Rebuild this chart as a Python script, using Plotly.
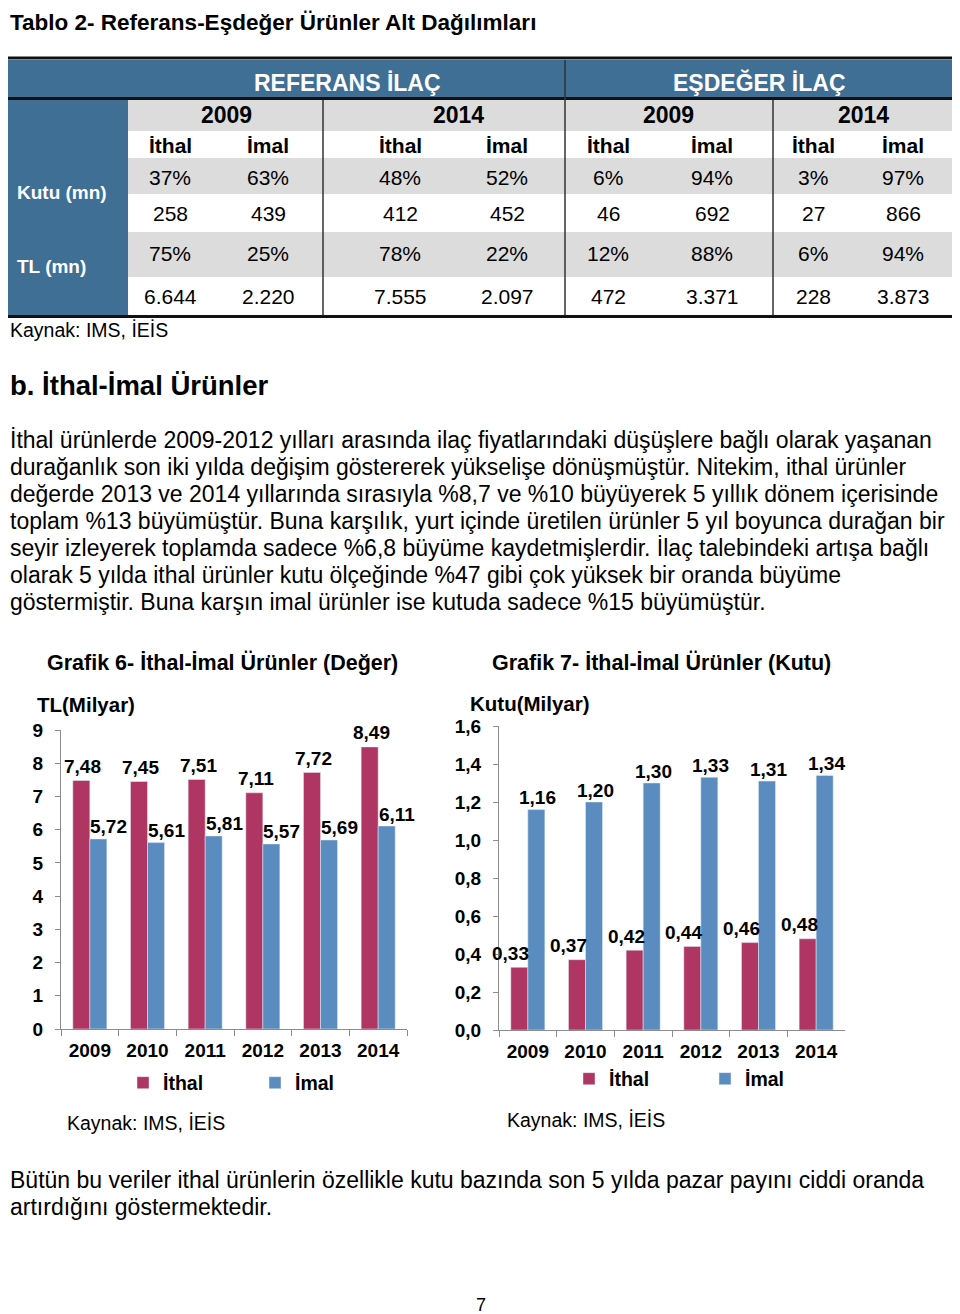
import plotly.graph_objects as go

W, H = 960, 1314
OFF = 8  # page body margin compensation

def X(px):
    return (px - OFF) / W

def Y(py):
    return 1 - (py - OFF) / H

FONT = "Liberation Sans, Arial, sans-serif"
BLUE_HDR = "#3F6F95"
GRAY_ROW = "#DCDCDC"
ITHAL_C = "#AF3562"
IMAL_C = "#5B8CBF"
AXIS_C = "#8C8C8C"

# ---------------- data ----------------
years = ["2009", "2010", "2011", "2012", "2013", "2014"]
deger_ithal = [7.48, 7.45, 7.51, 7.11, 7.72, 8.49]
deger_imal = [5.72, 5.61, 5.81, 5.57, 5.69, 6.11]
kutu_ithal = [0.33, 0.37, 0.42, 0.44, 0.46, 0.48]
kutu_imal = [1.16, 1.20, 1.30, 1.33, 1.31, 1.34]

table_groups = ["REFERANS İLAÇ", "EŞDEĞER İLAÇ"]
table_years = ["2009", "2014", "2009", "2014"]
table_sub = ["İthal", "İmal", "İthal", "İmal", "İthal", "İmal", "İthal", "İmal"]
row_labels = ["Kutu (mn)", "TL (mn)"]
kutu_pct = ["37%", "63%", "48%", "52%", "6%", "94%", "3%", "97%"]
kutu_val = ["258", "439", "412", "452", "46", "692", "27", "866"]
tl_pct = ["75%", "25%", "78%", "22%", "12%", "88%", "6%", "94%"]
tl_val = ["6.644", "2.220", "7.555", "2.097", "472", "3.371", "228", "3.873"]

page_title = "Tablo 2- Referans-Eşdeğer Ürünler Alt Dağılımları"
source_txt = "Kaynak: IMS, İEİS"
section_title = "b. İthal-İmal Ürünler"
paragraph = [
    "İthal ürünlerde 2009-2012 yılları arasında ilaç fiyatlarındaki düşüşlere bağlı olarak yaşanan",
    "durağanlık son iki yılda değişim göstererek yükselişe dönüşmüştür. Nitekim, ithal ürünler",
    "değerde 2013 ve 2014 yıllarında sırasıyla %8,7 ve %10 büyüyerek 5 yıllık dönem içerisinde",
    "toplam %13 büyümüştür. Buna karşılık, yurt içinde üretilen ürünler 5 yıl boyunca durağan bir",
    "seyir izleyerek toplamda sadece %6,8 büyüme kaydetmişlerdir. İlaç talebindeki artışa bağlı",
    "olarak 5 yılda ithal ürünler kutu ölçeğinde %47 gibi çok yüksek bir oranda büyüme",
    "göstermiştir. Buna karşın imal ürünler ise kutuda sadece %15 büyümüştür.",
]
closing = [
    "Bütün bu veriler ithal ürünlerin özellikle kutu bazında son 5 yılda pazar payını ciddi oranda",
    "artırdığını göstermektedir.",
]
chart1_title = "Grafik 6- İthal-İmal Ürünler (Değer)"
chart2_title = "Grafik 7- İthal-İmal Ürünler (Kutu)"
chart1_unit = "TL(Milyar)"
chart2_unit = "Kutu(Milyar)"
page_no = "7"

# ---------------- figure ----------------
fig = go.Figure()

fig.add_trace(go.Bar(x=years, y=deger_ithal, name="İthal", marker_color=ITHAL_C,
                     xaxis="x", yaxis="y", legend="legend", hoverinfo="skip"))
fig.add_trace(go.Bar(x=years, y=deger_imal, name="İmal", marker_color=IMAL_C,
                     xaxis="x", yaxis="y", legend="legend", hoverinfo="skip"))
fig.add_trace(go.Bar(x=years, y=kutu_ithal, name="İthal", marker_color=ITHAL_C,
                     xaxis="x2", yaxis="y2", legend="legend2", hoverinfo="skip"))
fig.add_trace(go.Bar(x=years, y=kutu_imal, name="İmal", marker_color=IMAL_C,
                     xaxis="x2", yaxis="y2", legend="legend2", hoverinfo="skip"))

ann = []
shapes = []

def text(x, y, t, size, bold=False, color="black", xanchor="left", yanchor="middle"):
    ann.append(dict(x=X(x), y=Y(y), xref="paper", yref="paper", text=t, showarrow=False,
                    xanchor=xanchor, yanchor=yanchor,
                    font=dict(family=FONT, size=size, color=color,
                              weight="bold" if bold else "normal")))

def rect(x0, y0, x1, y1, color):
    shapes.append(dict(type="rect", xref="paper", yref="paper", x0=X(x0), x1=X(x1),
                       y0=Y(y1), y1=Y(y0), fillcolor=color, line=dict(width=0), layer="below"))

def line(x0, y0, x1, y1, color, width):
    shapes.append(dict(type="line", xref="paper", yref="paper", x0=X(x0), x1=X(x1),
                       y0=Y(y0), y1=Y(y1), line=dict(color=color, width=width)))

LEFT = 8

# ---- table ----
text(LEFT, 8, page_title, 22.5, bold=True, yanchor="top")
rect(LEFT, 60, 953, 97, BLUE_HDR)
rect(LEFT, 97, 128, 315, BLUE_HDR)
rect(128, 100, 953, 131, GRAY_ROW)
rect(128, 158, 953, 194, GRAY_ROW)
rect(128, 232, 953, 277, GRAY_ROW)
line(LEFT, 58, 953, 58, "#111111", 3)
line(LEFT, 98.5, 953, 98.5, "#111111", 3)
line(LEFT, 316.5, 953, 316.5, "#111111", 3)
line(565, 60, 565, 315, "#333333", 1.5)
line(323, 100, 323, 315, "#333333", 1.5)
line(773, 100, 773, 315, "#333333", 1.5)

text(347, 83, table_groups[0], 23, bold=True, color="white", xanchor="center")
text(759, 83, table_groups[1], 23, bold=True, color="white", xanchor="center")
year_x = [226, 458, 668, 863]
for xx, t in zip(year_x, table_years):
    text(xx, 115, t, 23, bold=True, xanchor="center")
col_x = [170, 268, 400, 507, 608, 712, 813, 903]
for xx, t in zip(col_x, table_sub):
    text(xx, 145, t, 21, bold=True, xanchor="center")
for row_y, vals in zip([177, 213, 254, 296], [kutu_pct, kutu_val, tl_pct, tl_val]):
    for xx, t in zip(col_x, vals):
        text(xx, row_y, t, 21, xanchor="center")
text(15, 192, row_labels[0], 19, bold=True, color="white")
text(15, 266, row_labels[1], 19, bold=True, color="white")
text(LEFT, 330, source_txt, 19.5)

# ---- text ----
text(LEFT, 385, section_title, 27.5, bold=True)
for i, ln in enumerate(paragraph):
    text(LEFT, 440 + 27 * i, ln, 23)
for i, ln in enumerate(closing):
    text(LEFT, 1180 + 27 * i, ln, 23)
text(481, 1305, page_no, 18, xanchor="center")

# ---- chart headings ----
text(222, 663, chart1_title, 21.5, bold=True, xanchor="center")
text(661, 663, chart2_title, 21.5, bold=True, xanchor="center")
text(35, 704, chart1_unit, 20.5, bold=True)
text(468, 703, chart2_unit, 20.5, bold=True)
text(65, 1123, source_txt, 19.5)
text(505, 1120, source_txt, 19.5)

# ---- data labels ----
def fmt(v):
    return f"{v:.2f}".replace(".", ",")

def labels(vals, xref, yref, xshift, yshift):
    for i, v in enumerate(vals):
        ann.append(dict(x=i, y=v, xref=xref, yref=yref, text=fmt(v), showarrow=False,
                        xanchor="center", yanchor="middle", xshift=xshift, yshift=yshift,
                        font=dict(family=FONT, size=19, color="black", weight="bold")))

labels(deger_ithal, "x", "y", -7, 14)
labels(deger_imal, "x", "y", 19, 12)
labels(kutu_ithal, "x2", "y2", -17, 14)
labels(kutu_imal, "x2", "y2", 10, 12)

axis_common = dict(showgrid=False, zeroline=False, showline=True, linecolor=AXIS_C,
                   linewidth=1, ticks="outside", tickcolor=AXIS_C, automargin=False,
                   tickfont=dict(family=FONT, size=19, color="black", weight="bold"),
                   fixedrange=True)

fig.update_layout(
    width=W, height=H, margin=dict(l=0, r=0, t=0, b=0, autoexpand=False),
    paper_bgcolor="white", plot_bgcolor="white",
    separators=",.",
    barmode="group", bargap=0.41, bargroupgap=0,
    annotations=ann, shapes=shapes,
    xaxis=dict(domain=[X(61), X(407)], anchor="y", type="category", range=[-0.5, 5.5],
               tickson="boundaries", ticklen=6, ticklabelstandoff=4, tickangle=0, **axis_common),
    yaxis=dict(domain=[Y(1029), Y(730)], anchor="x", range=[0, 9], dtick=1,
               ticklen=5, ticklabelstandoff=8, **axis_common),
    xaxis2=dict(domain=[X(499), X(845)], anchor="y2", type="category", range=[-0.5, 5.5],
                tickson="boundaries", ticklen=6, ticklabelstandoff=4, tickangle=0, **axis_common),
    yaxis2=dict(domain=[Y(1030), Y(726)], anchor="x2", range=[0, 1.6], dtick=0.2,
                tickformat=".1f", ticklen=5, ticklabelstandoff=8, **axis_common),
    legend=dict(orientation="h", x=X(123), y=Y(1083), xanchor="left", yanchor="middle",
                entrywidth=87, entrywidthmode="pixels", bgcolor="rgba(0,0,0,0)",
                font=dict(family=FONT, size=19.5, color="black", weight="bold")),
    legend2=dict(orientation="h", x=X(569), y=Y(1079), xanchor="left", yanchor="middle",
                 entrywidth=91, entrywidthmode="pixels", bgcolor="rgba(0,0,0,0)",
                 font=dict(family=FONT, size=19.5, color="black", weight="bold")),
    showlegend=True,
)

fig.write_html("out.html")
